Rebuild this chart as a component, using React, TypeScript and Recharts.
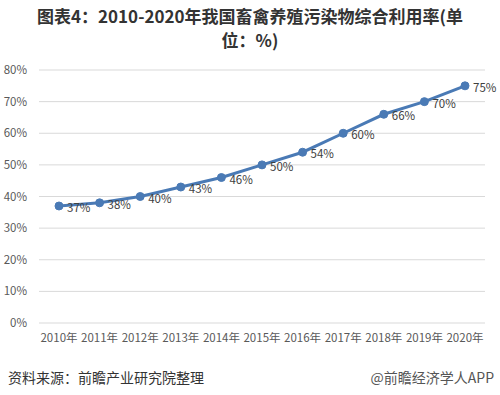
import { LineChart, Line, XAxis, YAxis, CartesianGrid, LabelList } from "recharts"

// 2010-2020 livestock manure comprehensive utilisation rate (%)
const years = ["2010年", "2011年", "2012年", "2013年", "2014年", "2015年", "2016年", "2017年", "2018年", "2019年", "2020年"]
const rates = [37, 38, 40, 43, 46, 50, 54, 60, 66, 70, 75]
const yTicks = [0, 10, 20, 30, 40, 50, 60, 70, 80]

const data = years.map((year, i) => ({ year, rate: rates[i] }))

const font = "'Noto Sans CJK SC', 'Liberation Sans', sans-serif"

// eslint-disable-next-line
const RateLabel = (props: any) => {
  const { x, y, value } = props
  return (
    <text x={x + 8} y={y + 3} fontSize={11.5} fill="#404040" fontFamily={font} dominantBaseline="middle">
      {value}%
    </text>
  )
}

export default function App() {
  return (
    <div style={{ position: "absolute", left: 0, top: 0, width: 500, height: 395, background: "#fff", fontFamily: font }}>
      <div
        style={{
          position: "absolute",
          top: 4,
          left: 0,
          width: 500,
          textAlign: "center",
          fontSize: 17,
          fontWeight: "bold",
          lineHeight: "24px",
          color: "#333",
        }}
      >
        图表4：2010-2020年我国畜禽养殖污染物综合利用率(单
        <br />
        位：%)
      </div>

      <LineChart
        width={500}
        height={395}
        data={data}
        margin={{ top: 70, right: 15, bottom: 42, left: 0 }}
        style={{ position: "absolute", left: 0, top: 0 }}
      >
        <CartesianGrid vertical={false} stroke="#d9d9d9" />
        <XAxis
          dataKey="year"
          axisLine={false}
          tickLine={false}
          tickSize={0}
          tickMargin={11}
          height={30}
          interval={0}
          padding={{ left: 20, right: 20 }}
          tick={{ fontSize: 11.5, fill: "#595959", fontFamily: font }}
        />
        <YAxis
          domain={[0, 80]}
          ticks={yTicks}
          tickFormatter={(v) => `${v}%`}
          axisLine={false}
          tickLine={false}
          tickSize={0}
          tickMargin={12}
          width={39}
          tick={{ fontSize: 11.5, fill: "#595959", fontFamily: font }}
        />
        <Line
          type="linear"
          dataKey="rate"
          stroke="#4a7ab5"
          strokeWidth={3}
          dot={{ r: 4, fill: "#4a7ab5", stroke: "#4a7ab5", strokeWidth: 1 }}
          isAnimationActive={false}
        >
          <LabelList dataKey="rate" content={<RateLabel />} />
        </Line>
      </LineChart>

      <div style={{ position: "absolute", left: 8, top: 367, fontSize: 14, color: "#333" }}>资料来源：前瞻产业研究院整理</div>
      <div style={{ position: "absolute", right: 6, top: 367, fontSize: 14, color: "#555" }}>@前瞻经济学人APP</div>
    </div>
  )
}
